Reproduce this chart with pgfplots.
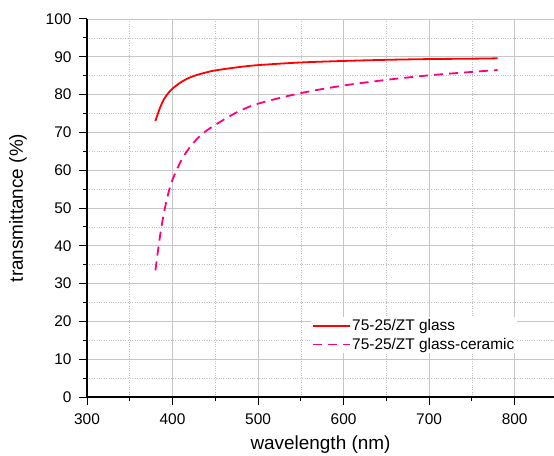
\documentclass[border=0pt]{standalone}
\usepackage{pgfplots}
\pgfplotsset{compat=1.18}
\usepackage{fontspec}
\setmainfont{Liberation Sans}
\definecolor{glassred}{RGB}{255,0,0}
\definecolor{gcpink}{RGB}{255,0,128}
\begin{document}
\begin{tikzpicture}[x=1bp,y=1bp]
\begin{axis}[
  at={(0,0)}, anchor=south west,
  scale only axis,
  width=467bp, height=378bp,
  xmin=300, xmax=846, ymin=0, ymax=100,
  xtick={300,400,...,800}, ytick={0,10,...,100},
  minor xtick={350,450,...,850}, minor ytick={5,15,...,95},
  axis x line*=bottom, axis y line*=left,
  axis line style={black, line width=1.2pt, -},
  tick style={black, line width=1pt},
  tick align=outside,
  major tick length=8bp, minor tick length=4bp,
  grid=both,
  major grid style={gray!45, line width=0.7pt},
  minor grid style={gray!50, dotted, line width=0.6pt},
  /pgf/number format/assume math mode=true,
  ticklabel style={font=\fontsize{15.5}{17}\selectfont},
  xticklabel style={yshift=-5bp},
  yticklabel style={xshift=-4bp},
  xlabel={wavelength (nm)}, ylabel={transmittance (\%)},
  label style={font=\fontsize{19}{21}\selectfont},
  xlabel style={yshift=-4bp},
  ylabel style={yshift=12bp},
  legend style={at={(0.479,0.212)}, anchor=north west, draw=none, fill=white,
    font=\fontsize{15.5}{17}\selectfont, row sep=3bp, inner sep=1bp,
    nodes={inner sep=1.5bp}},
  legend cell align=left,
  legend image code/.code={\draw[#1] (0bp,0bp) -- (37bp,0bp);},
  clip=false,
]
\addplot[glassred, line width=1.8pt, smooth] coordinates {
(380,73.0) (385,76.3) (390,78.8) (395,80.4) (400,81.6) (410,83.3) (420,84.5) (430,85.3)
(440,85.9) (450,86.4) (475,87.2) (500,87.8) (550,88.5) (600,88.9) (650,89.2) (700,89.4) (750,89.5) (780,89.6)};
\addlegendentry{75-25/ZT glass}
\addplot[gcpink, line width=1.8pt, dash pattern=on 9bp off 6bp, smooth] coordinates {
(380,33.5) (385,42.0) (390,48.8) (395,53.8) (400,57.5) (410,62.5) (420,66.0) (430,68.6)
(440,70.5) (450,72.0) (475,75.3) (500,77.6) (550,80.4) (600,82.4) (650,83.9) (700,85.1) (750,86.0) (780,86.5)};
\addlegendentry{75-25/ZT glass-ceramic}
\end{axis}
\pgfresetboundingbox
\useasboundingbox (-87bp,-59bp) rectangle (467bp,397bp);
\end{tikzpicture}
\end{document}
